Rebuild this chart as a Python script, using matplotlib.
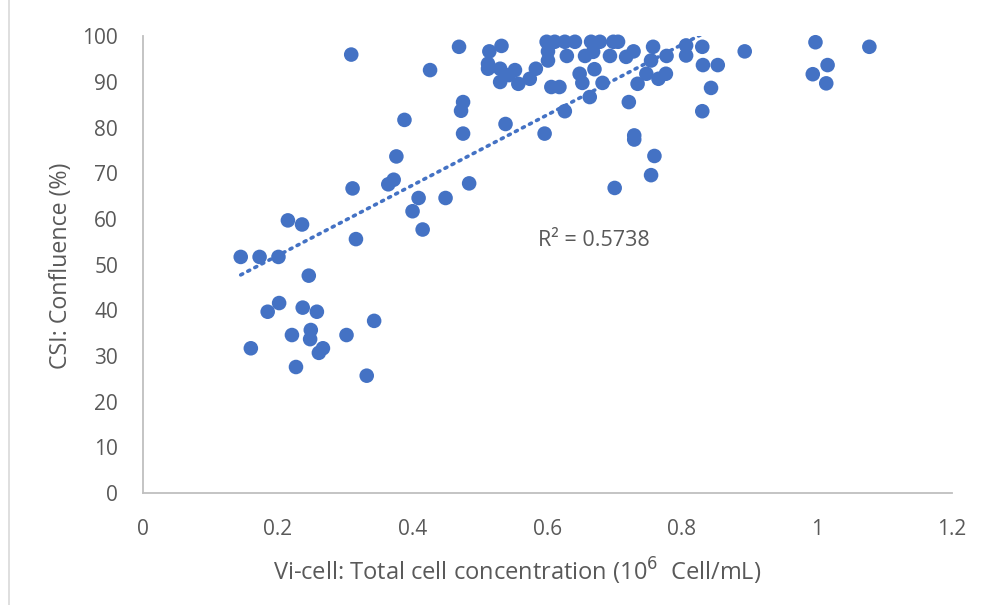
import numpy as np
import matplotlib
matplotlib.use('Agg')
import matplotlib.pyplot as plt
from matplotlib.ticker import FuncFormatter
from matplotlib.lines import Line2D

# Vi-cell total cell concentration (10^6 cells/mL) vs CSI confluence (%)
vicell = [0.145, 0.173, 0.201, 0.215, 0.236, 0.246, 0.202, 0.185, 0.237, 0.258,
          0.343, 0.221, 0.249, 0.248, 0.302, 0.160, 0.267, 0.261, 0.227, 0.332,
          0.309, 0.426, 0.388, 0.376, 0.364, 0.372, 0.311, 0.409, 0.400, 0.415,
          0.316, 0.449, 0.484, 0.475, 0.472, 0.475, 0.469, 0.538, 0.596, 0.626,
          0.663, 0.721, 0.729, 0.729, 0.759, 0.754, 0.700,
          0.514, 0.532, 0.512, 0.512, 0.530, 0.530, 0.543, 0.552, 0.557, 0.574,
          0.583, 0.599, 0.611, 0.626, 0.641, 0.601, 0.601, 0.629, 0.606, 0.618,
          0.656, 0.665, 0.648, 0.652, 0.678, 0.698, 0.705, 0.668, 0.693, 0.717,
          0.728, 0.757, 0.754, 0.777, 0.806, 0.806, 0.830, 0.831, 0.670, 0.682,
          0.734, 0.747, 0.765, 0.776, 0.843, 0.830, 0.853, 0.893, 0.998, 1.078,
          1.016, 0.994, 1.014]
confluence = [51.7, 51.7, 51.7, 59.7, 58.8, 47.6, 41.6, 39.7, 40.6, 39.7,
              37.7, 34.6, 35.7, 33.7, 34.6, 31.7, 31.7, 30.7, 27.6, 25.7,
              96.0, 92.6, 81.7, 73.7, 67.6, 68.6, 66.7, 64.6, 61.7, 57.7,
              55.6, 64.6, 67.8, 78.7, 83.7, 85.6, 97.7, 80.8, 78.7, 83.6,
              86.7, 85.6, 78.3, 77.4, 73.8, 69.6, 66.8,
              96.7, 97.9, 94.0, 92.9, 92.9, 90.0, 91.5, 92.6, 89.6, 90.7,
              92.9, 98.8, 98.8, 98.8, 98.8, 96.7, 94.7, 95.7, 88.9, 88.9,
              95.7, 98.8, 91.8, 89.8, 98.8, 98.8, 98.8, 96.6, 95.7, 95.5,
              96.7, 97.7, 94.7, 95.7, 98.0, 95.8, 97.7, 93.7, 92.8, 89.8,
              89.6, 91.8, 90.7, 91.8, 88.7, 83.6, 93.7, 96.7, 98.7, 97.7,
              93.7, 91.7, 89.7]

# linear trendline as shown in the chart (R² = 0.5738)
trend_slope = 77.0
trend_intercept = 36.6
r2_label = 'R² = 0.5738'

blue = '#4472C4'
grey = '#595959'
plt.rcParams['font.family'] = ['Open Sans', 'DejaVu Sans']

fig = plt.figure(figsize=(9.81, 6.05), dpi=100)
ax = fig.add_axes([0.1458, 0.185, 0.8242, 0.755])

x = np.array(vicell)
y = np.array(confluence)
ax.scatter(x, y, s=110, color=blue, edgecolors='none', zorder=3, clip_on=False)

xt = np.array([x.min(), x.max()])
ax.plot(xt, trend_intercept + trend_slope * xt, linestyle=(0, (0.6, 1.6)),
        dash_capstyle='round', color=blue, linewidth=2.6, zorder=2)
ax.text(0.586, 55.4, r2_label, fontsize=15.5, color=grey, va='center', ha='left')

ax.set_xlim(0, 1.2)
ax.set_ylim(0, 100)
ax.set_xticks(np.arange(0, 1.21, 0.2))
ax.set_yticks(np.arange(0, 101, 10))
ax.xaxis.set_major_formatter(FuncFormatter(lambda v, p: '{:g}'.format(round(v, 1))))
ax.tick_params(length=0, labelsize=15, labelcolor=grey)
ax.tick_params(axis='x', pad=19)
ax.tick_params(axis='y', pad=18)

for s in ['top', 'right']:
    ax.spines[s].set_visible(False)
for s in ['left', 'bottom']:
    ax.spines[s].set_color('#BFBFBF')
    ax.spines[s].set_linewidth(1.3)

fig.text(0.527, 0.056, 'Vi-cell: Total cell concentration (10$^{6}$  Cell/mL)',
         fontsize=17, color=grey, ha='center', va='center')
fig.text(0.0622, 0.560, 'CSI: Confluence (%)', fontsize=16.7, color=grey,
         ha='center', va='center', rotation=90)

fig.add_artist(Line2D([0.009, 0.009], [0, 1], color='#D9D9D9', linewidth=1.2))

fig.savefig('out.png', dpi=100)
